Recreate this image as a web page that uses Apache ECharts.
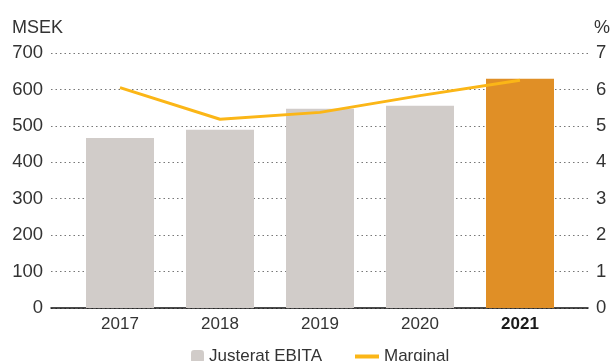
<!DOCTYPE html>
<html>
<head>
<meta charset="utf-8">
<script src="https://cdn.jsdelivr.net/npm/echarts@6/dist/echarts.min.js"></script>
<style>html,body{margin:0;padding:0;background:#fff}#c{width:612px;height:361px}</style>
</head>
<body>
<div id="c"></div>
<script>
var years = ['2017', '2018', '2019', '2020', '2021'];
var ebita = [467, 489, 547, 555, 629];
var margin = [6.05, 5.18, 5.37, 5.83, 6.25];
var leftTicks = [0, 700, 100];
var rightTicks = [0, 7, 1];

var FONT = 'Liberation Sans, Arial, sans-serif';
var TXT = '#333333';
var chart = echarts.init(document.getElementById('c'), null, {renderer: 'canvas'});
var barColors = ['#d1ccc9', '#d1ccc9', '#d1ccc9', '#d1ccc9', '#e08f26'];

chart.setOption({
  animation: false,
  textStyle: {fontFamily: FONT},
  title: [
    {text: 'MSEK', left: 7, top: 14, textStyle: {fontFamily: FONT, fontSize: 18, fontWeight: 'normal', color: TXT}},
    {text: '%', right: -3, top: 14, textStyle: {fontFamily: FONT, fontSize: 18, fontWeight: 'normal', color: TXT}}
  ],
  legend: [
    {data: ['Justerat EBITA'], left: 186, top: 343, itemWidth: 13, itemHeight: 13, itemGap: 0,
     textStyle: {fontFamily: FONT, fontSize: 17, color: TXT}},
    {data: [{name: 'Marginal', icon: 'rect'}], left: 350, top: 343, itemWidth: 24, itemHeight: 4,
     textStyle: {fontFamily: FONT, fontSize: 17, color: TXT}}
  ],
  grid: [
    {left: 51, right: 24, top: 53, bottom: 53},
    {left: 70, right: 42, top: 53, bottom: 53}
  ],
  xAxis: [
    {type: 'value', gridIndex: 0, min: 0, max: 1, axisLabel: {show: false}, axisTick: {show: false},
     splitLine: {show: false}, axisLine: {show: true, onZero: false, lineStyle: {color: '#111', width: 1.5}}},
    {type: 'category', gridIndex: 1, data: years, axisLine: {show: false}, axisTick: {show: false},
     axisLabel: {margin: 8, fontSize: 17, color: TXT, fontFamily: FONT,
       formatter: function (v) { return v === '2021' ? '{b|' + v + '}' : v; },
       rich: {b: {fontWeight: 'bold', fontSize: 17, color: '#1a1a1a', fontFamily: FONT}}}}
  ],
  yAxis: [
    {type: 'value', gridIndex: 0, min: leftTicks[0], max: leftTicks[1], interval: leftTicks[2], position: 'left',
     axisLine: {show: false}, axisTick: {show: false},
     axisLabel: {margin: 8, fontSize: 18.5, color: TXT, fontFamily: FONT},
     splitLine: {show: true, lineStyle: {color: '#777', type: [1.5, 3], width: 1.2}}},
    {type: 'value', gridIndex: 0, min: rightTicks[0], max: rightTicks[1], interval: rightTicks[2], position: 'right',
     axisLine: {show: false}, axisTick: {show: false},
     axisLabel: {margin: 8, fontSize: 18.5, color: TXT, fontFamily: FONT},
     splitLine: {show: false}},
    {type: 'value', gridIndex: 1, min: leftTicks[0], max: leftTicks[1], show: false},
    {type: 'value', gridIndex: 1, min: rightTicks[0], max: rightTicks[1], show: false}
  ],
  series: [
    {name: 'Justerat EBITA', type: 'bar', xAxisIndex: 1, yAxisIndex: 2, barWidth: 68,
     itemStyle: {color: '#d1ccc9'},
     data: ebita.map(function (v, i) { return {value: v, itemStyle: {color: barColors[i]}}; })},
    {name: 'Marginal', type: 'line', xAxisIndex: 1, yAxisIndex: 3, data: margin,
     showSymbol: false, symbol: 'none', itemStyle: {color: '#fbb617'},
     lineStyle: {color: '#fbb617', width: 3}, z: 5}
  ]
});
</script>
</body>
</html>
